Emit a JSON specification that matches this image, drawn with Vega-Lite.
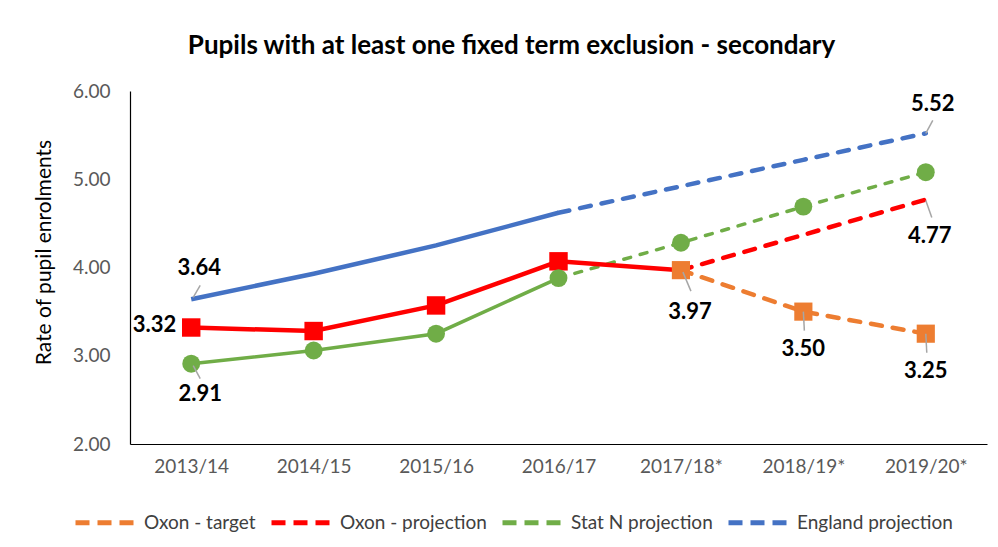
{
  "$schema": "https://vega.github.io/schema/vega-lite/v6.json",
  "width": 857,
  "height": 353,
  "autosize": {"type": "none"},
  "padding": {"left": 130, "top": 91, "right": 11, "bottom": 103},
  "background": "white",
  "config": {
    "font": "Lato",
    "view": {"stroke": null},
    "axis": {"grid": false, "ticks": false, "tickSize": 0, "domainColor": "#000000", "domainWidth": 1.2, "labelFont": "Lato", "labelFontSize": 19, "labelColor": "#595959", "titleFont": "Lato"}
  },
  "title": {
    "text": "Pupils with at least one fixed term exclusion - secondary",
    "font": "Lato",
    "fontSize": 26,
    "fontWeight": "bold",
    "color": "#000000",
    "anchor": "middle",
    "frame": "group",
    "dx": -47,
    "offset": 23
  },
  "data": {
    "values": [
      {"series": "England", "year": "2013/14", "value": 3.64},
      {"series": "England", "year": "2014/15", "value": 3.93},
      {"series": "England", "year": "2015/16", "value": 4.25},
      {"series": "England", "year": "2016/17", "value": 4.62},
      {"series": "England projection", "year": "2016/17", "value": 4.62},
      {"series": "England projection", "year": "2017/18*", "value": 4.92},
      {"series": "England projection", "year": "2018/19*", "value": 5.22},
      {"series": "England projection", "year": "2019/20*", "value": 5.52},
      {"series": "Oxon", "year": "2013/14", "value": 3.32},
      {"series": "Oxon", "year": "2014/15", "value": 3.28},
      {"series": "Oxon", "year": "2015/16", "value": 3.57},
      {"series": "Oxon", "year": "2016/17", "value": 4.07},
      {"series": "Oxon", "year": "2017/18*", "value": 3.97},
      {"series": "Oxon - projection", "year": "2017/18*", "value": 3.97},
      {"series": "Oxon - projection", "year": "2018/19*", "value": 4.37},
      {"series": "Oxon - projection", "year": "2019/20*", "value": 4.77},
      {"series": "Oxon - target", "year": "2017/18*", "value": 3.97},
      {"series": "Oxon - target", "year": "2018/19*", "value": 3.50},
      {"series": "Oxon - target", "year": "2019/20*", "value": 3.25},
      {"series": "Stat N", "year": "2013/14", "value": 2.91},
      {"series": "Stat N", "year": "2014/15", "value": 3.06},
      {"series": "Stat N", "year": "2015/16", "value": 3.25},
      {"series": "Stat N", "year": "2016/17", "value": 3.88},
      {"series": "Stat N projection", "year": "2016/17", "value": 3.88},
      {"series": "Stat N projection", "year": "2017/18*", "value": 4.28},
      {"series": "Stat N projection", "year": "2018/19*", "value": 4.69},
      {"series": "Stat N projection", "year": "2019/20*", "value": 5.08}
    ]
  },
  "encoding": {
    "x": {
      "field": "year",
      "type": "ordinal",
      "scale": {"type": "point", "padding": 0.5},
      "axis": {"title": null, "labelAngle": 0, "labelPadding": 13, "domainColor": "#000000"}
    },
    "y": {
      "field": "value",
      "type": "quantitative",
      "scale": {"domain": [2, 6], "nice": false, "zero": false},
      "axis": {"values": [2, 3, 4, 5, 6], "format": ".2f", "labelPadding": 20, "title": "Rate of pupil enrolments", "titleFontSize": 21, "titleFontWeight": "normal", "titleColor": "#000000", "titlePadding": 18, "titleY": 161}
    }
  },
  "layer": [
    {
      "transform": [{"filter": "datum.series == 'England'"}],
      "mark": {"type": "line", "color": "#4472C4", "strokeWidth": 4.5},
      "encoding": {}
    },
    {
      "transform": [{"filter": "datum.series == 'England projection'"}],
      "mark": {"type": "line", "strokeWidth": 4.5, "strokeDash": [11, 11], "strokeCap": "round"},
      "encoding": {
        "color": {
          "field": "series",
          "type": "nominal",
          "scale": {"domain": ["Oxon - target", "Oxon - projection", "Stat N projection", "England projection"], "range": ["#ED7D31", "#FF0000", "#70AD47", "#4472C4"]},
          "legend": {
            "title": null,
            "orient": "none",
            "direction": "horizontal",
            "legendX": -57,
            "legendY": 399,
            "symbolType": "stroke",
            "symbolSize": 3600,
            "symbolStrokeWidth": 5,
            "symbolDash": [14, 8],
            "labelFont": "Lato",
            "labelFontSize": 19,
            "labelColor": "#404040",
            "labelOffset": 6,
            "columnPadding": 5,
            "padding": 0
          }
        }
      }
    },
    {
      "transform": [{"filter": "datum.series == 'Stat N'"}],
      "mark": {"type": "line", "color": "#70AD47", "strokeWidth": 3.5},
      "encoding": {}
    },
    {
      "transform": [{"filter": "datum.series == 'Stat N projection'"}],
      "mark": {"type": "line", "strokeWidth": 3.5, "strokeDash": [7, 10], "strokeCap": "round"},
      "encoding": {"color": {"field": "series", "type": "nominal"}}
    },
    {
      "transform": [{"filter": "datum.series == 'Oxon'"}],
      "mark": {"type": "line", "color": "#FF0000", "strokeWidth": 4.5},
      "encoding": {}
    },
    {
      "transform": [{"filter": "datum.series == 'Oxon - projection'"}],
      "mark": {"type": "line", "strokeWidth": 4.5, "strokeDash": [11, 11], "strokeCap": "round"},
      "encoding": {"color": {"field": "series", "type": "nominal"}}
    },
    {
      "transform": [{"filter": "datum.series == 'Oxon - target'"}],
      "mark": {"type": "line", "strokeWidth": 4.5, "strokeDash": [11, 11], "strokeCap": "round"},
      "encoding": {"color": {"field": "series", "type": "nominal"}}
    },
    {
      "transform": [{"filter": "datum.series == 'Oxon' && datum.year != '2017/18*'"}],
      "mark": {"type": "point", "shape": "square", "filled": true, "opacity": 1, "color": "#FF0000", "size": 340},
      "encoding": {}
    },
    {
      "transform": [{"filter": "datum.series == 'Oxon - target'"}],
      "mark": {"type": "point", "shape": "square", "filled": true, "opacity": 1, "color": "#ED7D31", "size": 330},
      "encoding": {}
    },
    {
      "transform": [{"filter": "datum.series == 'Stat N' || (datum.series == 'Stat N projection' && datum.year != '2016/17')"}],
      "mark": {"type": "point", "shape": "circle", "filled": true, "opacity": 1, "color": "#70AD47", "size": 320},
      "encoding": {}
    },
    {
      "transform": [{"filter": "datum.series == 'England' && datum.year == '2013/14'"}],
      "mark": {"type": "rule", "color": "#A6A6A6", "strokeWidth": 1.5, "xOffset": 2, "yOffset": -2, "x2Offset": 9, "y2Offset": -14},
      "encoding": {"x2": {"field": "year"}, "y2": {"field": "value"}}
    },
    {
      "transform": [{"filter": "datum.series == 'Stat N' && datum.year == '2013/14'"}],
      "mark": {"type": "rule", "color": "#A6A6A6", "strokeWidth": 1.5, "xOffset": 2, "yOffset": 2, "x2Offset": 9, "y2Offset": 15},
      "encoding": {"x2": {"field": "year"}, "y2": {"field": "value"}}
    },
    {
      "transform": [{"filter": "datum.series == 'Oxon - target' && datum.year == '2017/18*'"}],
      "mark": {"type": "rule", "color": "#A6A6A6", "strokeWidth": 1.5, "xOffset": 2, "yOffset": 2, "x2Offset": 10, "y2Offset": 21},
      "encoding": {"x2": {"field": "year"}, "y2": {"field": "value"}}
    },
    {
      "transform": [{"filter": "datum.series == 'Oxon - target' && datum.year != '2017/18*'"}],
      "mark": {"type": "rule", "color": "#A6A6A6", "strokeWidth": 1.5, "xOffset": 0, "yOffset": 0, "x2Offset": 1, "y2Offset": 19},
      "encoding": {"x2": {"field": "year"}, "y2": {"field": "value"}}
    },
    {
      "transform": [{"filter": "datum.series == 'Oxon - projection' && datum.year == '2019/20*'"}],
      "mark": {"type": "rule", "color": "#A6A6A6", "strokeWidth": 1.5, "xOffset": 0, "yOffset": 1, "x2Offset": 6, "y2Offset": 18},
      "encoding": {"x2": {"field": "year"}, "y2": {"field": "value"}}
    },
    {
      "transform": [{"filter": "datum.series == 'England projection' && datum.year == '2019/20*'"}],
      "mark": {"type": "rule", "color": "#A6A6A6", "strokeWidth": 1.5, "xOffset": 0, "yOffset": 0, "x2Offset": 7, "y2Offset": -13},
      "encoding": {"x2": {"field": "year"}, "y2": {"field": "value"}}
    },
    {
      "transform": [{"filter": "datum.series == 'England' && datum.year == '2013/14'"}],
      "mark": {"type": "text", "font": "Lato", "fontSize": 22, "fontWeight": "bold", "color": "#000000", "baseline": "middle", "align": "center", "dx": 8, "dy": -31},
      "encoding": {"text": {"field": "value", "format": ".2f"}}
    },
    {
      "transform": [{"filter": "datum.series == 'Oxon' && datum.year == '2013/14'"}],
      "mark": {"type": "text", "font": "Lato", "fontSize": 22, "fontWeight": "bold", "color": "#000000", "baseline": "middle", "align": "right", "dx": -15, "dy": -3},
      "encoding": {"text": {"field": "value", "format": ".2f"}}
    },
    {
      "transform": [{"filter": "datum.series == 'Stat N' && datum.year == '2013/14'"}],
      "mark": {"type": "text", "font": "Lato", "fontSize": 22, "fontWeight": "bold", "color": "#000000", "baseline": "middle", "align": "center", "dx": 9, "dy": 30},
      "encoding": {"text": {"field": "value", "format": ".2f"}}
    },
    {
      "transform": [{"filter": "datum.series == 'Oxon - target' && datum.year == '2017/18*'"}],
      "mark": {"type": "text", "font": "Lato", "fontSize": 22, "fontWeight": "bold", "color": "#000000", "baseline": "middle", "align": "center", "dx": 9, "dy": 42},
      "encoding": {"text": {"field": "value", "format": ".2f"}}
    },
    {
      "transform": [{"filter": "datum.series == 'Oxon - target' && datum.year != '2017/18*'"}],
      "mark": {"type": "text", "font": "Lato", "fontSize": 22, "fontWeight": "bold", "color": "#000000", "baseline": "middle", "align": "center", "dx": 0, "dy": 37},
      "encoding": {"text": {"field": "value", "format": ".2f"}}
    },
    {
      "transform": [{"filter": "datum.series == 'Oxon - projection' && datum.year == '2019/20*'"}],
      "mark": {"type": "text", "font": "Lato", "fontSize": 22, "fontWeight": "bold", "color": "#000000", "baseline": "middle", "align": "center", "dx": 4, "dy": 36},
      "encoding": {"text": {"field": "value", "format": ".2f"}}
    },
    {
      "transform": [{"filter": "datum.series == 'England projection' && datum.year == '2019/20*'"}],
      "mark": {"type": "text", "font": "Lato", "fontSize": 22, "fontWeight": "bold", "color": "#000000", "baseline": "middle", "align": "center", "dx": 7, "dy": -29},
      "encoding": {"text": {"field": "value", "format": ".2f"}}
    }
  ]
}
